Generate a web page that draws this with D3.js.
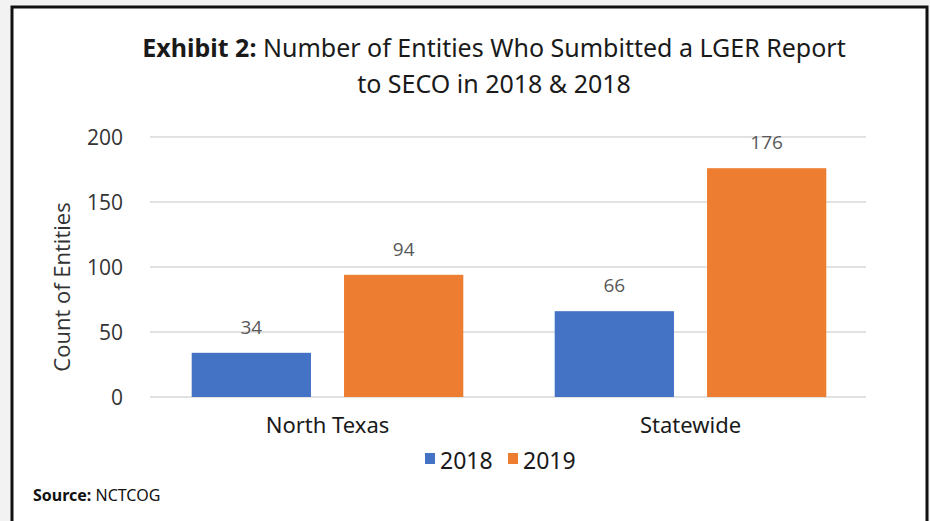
<!DOCTYPE html>
<html><head><meta charset="utf-8">
<script src="https://cdn.jsdelivr.net/npm/d3@7"></script>
<style>
html,body{margin:0;padding:0;background:#f2f2f2;}
svg{display:block;}
</style></head>
<body>
<svg id="chart" width="930" height="521"></svg>
<script>
const categories = ["North Texas", "Statewide"];
const seriesNames = ["2018", "2019"];
const values2018 = [34, 66];
const values2019 = [94, 176];
const yTicks = [0, 50, 100, 150, 200];
const titleBold = "Exhibit 2:";
const titleRest = " Number of Entities Who Sumbitted a LGER Report";
const titleLine2 = "to SECO in 2018 & 2018";
const yAxisTitle = "Count of Entities";
const sourceBold = "Source:";
const sourceRest = " NCTCOG";

const colors = {"2018": "#4472C4", "2019": "#ED7D31"};
const narrow = "'Liberation Sans Narrow', 'Arial Narrow', 'Noto Sans', sans-serif";
const svg = d3.select("#chart");

// panel
svg.append("rect").attr("x", 12).attr("y", 7).attr("width", 915).attr("height", 530)
  .attr("fill", "#ffffff").attr("stroke", "#111").attr("stroke-width", 3);

const plot = {left: 146, right: 872, top: 137, bottom: 397};
const x0 = d3.scaleBand().domain(categories).range([plot.left, plot.right]).paddingInner(0).paddingOuter(0);
const x1 = d3.scaleBand().domain(seriesNames).range([0, x0.bandwidth()]).paddingInner(0.217).paddingOuter(0.30);
const y = d3.scaleLinear().domain([0, 200]).range([plot.bottom, plot.top]);

// gridlines
svg.append("g").selectAll("line").data(yTicks).join("line")
  .attr("x1", plot.left + 4).attr("x2", plot.right - 6)
  .attr("y1", d => y(d)).attr("y2", d => y(d))
  .attr("stroke", "#d9d9d9").attr("stroke-width", 1.5);

// y axis labels
const yAxis = d3.axisLeft(y).tickValues(yTicks).tickSize(0).tickPadding(0);
const ya = svg.append("g").attr("transform", `translate(123,0)`).call(yAxis);
ya.select(".domain").remove();
ya.selectAll("text").attr("font-family", "'Open Sans', sans-serif").attr("font-size", 21)
  .attr("fill", "#333333").attr("dy", "0.35em");

// y axis title
svg.append("text").attr("transform", `translate(70,287) rotate(-90)`)
  .attr("text-anchor", "middle").attr("font-family", "'Open Sans', sans-serif")
  .attr("font-size", 22).attr("fill", "#333333").text(yAxisTitle);

// bars
const data = categories.map((c, i) => ({cat: c, vals: [
  {s: "2018", v: values2018[i]}, {s: "2019", v: values2019[i]}]}));
const groups = svg.append("g").selectAll("g").data(data).join("g")
  .attr("transform", d => `translate(${x0(d.cat)},0)`);
groups.selectAll("rect").data(d => d.vals).join("rect")
  .attr("x", d => x1(d.s)).attr("width", x1.bandwidth())
  .attr("y", d => y(d.v)).attr("height", d => y(0) - y(d.v))
  .attr("fill", d => colors[d.s]);
groups.selectAll("text").data(d => d.vals).join("text")
  .attr("x", d => x1(d.s) + x1.bandwidth() / 2).attr("y", d => y(d.v) - 19)
  .attr("text-anchor", "middle").attr("font-family", "'Open Sans', sans-serif")
  .attr("font-size", 19).attr("fill", "#595959").text(d => d.v);

// x axis labels
const xAxis = d3.axisBottom(x0).tickSize(0).tickPadding(0);
const xa = svg.append("g").attr("transform", `translate(0,${plot.bottom + 36})`).call(xAxis);
xa.select(".domain").remove();
xa.selectAll("text").attr("font-family", narrow).attr("font-size", 22).attr("fill", "#1a1a1a")
  .attr("dy", 0);

// title
const t1 = svg.append("text").attr("x", 494).attr("y", 57).attr("text-anchor", "middle")
  .attr("font-family", narrow).attr("font-size", 25).attr("fill", "#1a1a1a");
t1.append("tspan").attr("font-weight", "bold").text(titleBold);
t1.append("tspan").text(titleRest);
svg.append("text").attr("x", 494).attr("y", 93).attr("text-anchor", "middle")
  .attr("font-family", narrow).attr("font-size", 25).attr("fill", "#1a1a1a").text(titleLine2);

// legend
const leg = svg.append("g").attr("transform", "translate(425,461)");
const legItems = [{s: "2018", x: 0}, {s: "2019", x: 83}];
leg.selectAll("rect").data(legItems).join("rect")
  .attr("x", d => d.x).attr("y", -8).attr("width", 10).attr("height", 11)
  .attr("fill", d => colors[d.s]);
leg.selectAll("text").data(legItems).join("text")
  .attr("x", d => d.x + 15).attr("y", 0).attr("dy", "0.35em")
  .attr("font-family", narrow).attr("font-size", 23).attr("fill", "#1a1a1a").text(d => d.s);

// source
const src = svg.append("text").attr("x", 33).attr("y", 501)
  .attr("font-family", narrow).attr("font-size", 16).attr("fill", "#111");
src.append("tspan").attr("font-weight", "bold").text(sourceBold);
src.append("tspan").text(sourceRest);
</script>
</body></html>
